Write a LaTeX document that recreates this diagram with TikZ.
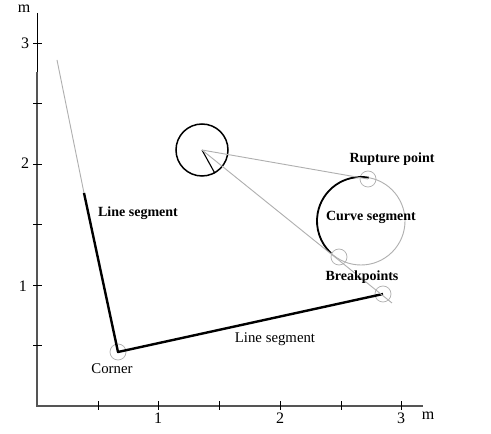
\documentclass[tikz,border=0pt]{standalone}
\usepackage{fontspec}
\setmainfont{Liberation Serif}
\definecolor{axisgray}{RGB}{85,85,85}
\definecolor{lgray}{RGB}{175,175,175}
\begin{document}
\begin{tikzpicture}[x=1pt,y=1pt,
  lbl/.style={font=\fontsize{14}{16}\selectfont\bfseries, inner sep=0pt},
  lblr/.style={font=\fontsize{14.8}{16}\selectfont, inner sep=0pt},
  num/.style={font=\fontsize{16}{18}\selectfont, inner sep=0pt},
  markc/.style={circle, draw=lgray, line width=0.7pt, minimum size=16pt, inner sep=0pt},
  graypath/.style={draw=lgray, line width=0.9pt},
  blackpath/.style={draw=black, line width=2.4pt, line join=round},
  tick/.style={draw=black, line width=0.9pt}]
\useasboundingbox (0,0) rectangle (491,434);
\fill[white] (0,0) rectangle (491,434);
% axes
\coordinate (O) at (37,28);
\coordinate (ytop) at (37,421);
\coordinate (ymid) at (37,362);
\coordinate (xend) at (423,28);
\draw[line width=0.9pt] (ytop) -- (ymid);
\draw[draw=axisgray, line width=2pt] (ymid) -- (O) -- (xend);
\foreach \yy in {391,331,270,210,149,89} \draw[tick] (33,\yy) -- (42,\yy);
\foreach \xx in {98,158,219,280,341,401} \draw[tick] (\xx,24) -- (\xx,33);
\node[num] (y3) at (25,391) {3};
\node[num] (y2) at (25,271) {2};
\node[num] (y1) at (23,148) {1};
\node[num] (ym) at (24,425) {m};
\node[num] (x1) at (158,16) {1};
\node[num] (x2) at (280,16) {2};
\node[num] (x3) at (401,16) {3};
\node[num] (xm) at (428,18) {m};
% points
\coordinate (ls1start) at (57,374);
\coordinate (ls1black) at (84,241);
\node[markc] (corner) at (118,82) {};
\node[markc] (bp2) at (383,140) {};
\node[markc] (rup) at (368,255) {};
\node[markc] (bp1) at (339,177) {};
\coordinate (gend) at (392,131);
\node[circle, draw=black, line width=1.5pt, minimum size=52pt, inner sep=0pt] (bigc) at (202,284) {};
\node[circle, draw=lgray, line width=0.9pt, minimum size=88pt, inner sep=0pt] (cc) at (361,213) {};
% line segments
\draw[graypath] (ls1start) -- (ls1black);
\draw[blackpath] (ls1black) -- (corner.center) -- (bp2.center);
% curve segment arc
\draw[line width=1.8pt] (cc.center) ++(80:44) arc[start angle=80, end angle=227, radius=44];
% rays from big circle
\draw[line width=1.1pt] (bigc.center) -- (bigc.-61);
\draw[graypath] (bigc.center) -- (rup.center);
\draw[graypath] (bigc.center) -- (gend);
% labels
\node[lbl] (t1) at (138,221) {Line segment};
\node[lbl] (t2) at (392,275) {Rupture point};
\node[lbl] (t3) at (371,217) {Curve segment};
\node[lbl] (t4) at (362,157) {Breakpoints};
\node[lblr] (t5) at (275,95) {Line segment};
\node[lblr] (t6) at (112,65) {Corner};
\end{tikzpicture}
\end{document}
